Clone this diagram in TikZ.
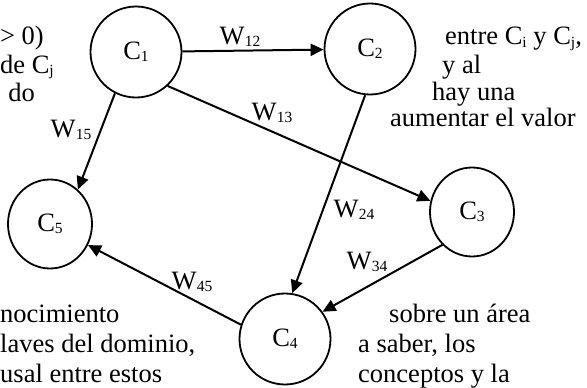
\documentclass[tikz,border=0pt]{standalone}
\usepackage{fontspec}
\setmainfont{Liberation Serif}
\usetikzlibrary{arrows.meta,positioning,shapes.geometric}

\newcommand{\lowidx}[1]{\raisebox{-2pt}{\fontsize{15.5}{16}\selectfont #1}}

\tikzset{
  concept/.style={ellipse,draw,line width=1.8pt,minimum width=91pt,minimum height=91pt,
    inner sep=0pt,font=\fontsize{26.5}{30}\selectfont},
  weight/.style={inner sep=0pt,font=\fontsize{26.5}{30}\selectfont},
  bgtext/.style={inner sep=0pt,font=\fontsize{26.5}{30}\selectfont},
  link/.style={line width=2pt,-{Triangle[length=13pt,width=12pt]}}
}

\begin{document}
\begin{tikzpicture}[x=1pt,y=-1pt,on grid]
\useasboundingbox (0,0) rectangle (587,388);

% paragraph text showing behind the map
\node[bgtext,anchor=base east] (tl1) at (44,44) {> 0)};
\node[bgtext,anchor=base east] (tl2) at (54,73) {de C\lowidx{j}};
\node[bgtext,anchor=base east] (tl3) at (35,101) {do};
\node[bgtext,anchor=base west] (tr1) at (445,45) {entre C\lowidx{i} y C\lowidx{j},};
\node[bgtext,anchor=base west] (tr2) at (442,73) {y al};
\node[bgtext,anchor=base west] (tr3) at (432,100) {hay una};
\node[bgtext,anchor=base west] (tr4) at (390,126) {aumentar el valor};
\node[bgtext,anchor=base west] (bl1) at (0,322) {nocimiento};
\node[bgtext,anchor=base west] (bl2) at (0,352) {laves del dominio,};
\node[bgtext,anchor=base west] (bl3) at (0,382) {usal entre estos};
\node[bgtext,anchor=base west] (br1) at (389,322) {sobre un área};
\node[bgtext,anchor=base west] (br2) at (358,352) {a saber, los};
\node[bgtext,anchor=base west] (br3) at (358,382) {conceptos y la};

% concepts
\node[concept] (C1) at (136,52) {C\lowidx{1}};
\node[concept] (C2) [above right=3pt and 234pt of C1] {C\lowidx{2}};
\node[concept,minimum width=84pt,minimum height=89pt] (C3) [below right=163pt and 102pt of C2] {C\lowidx{3}};
\node[concept] (C4) [below left=127pt and 187pt of C3] {C\lowidx{4}};
\node[concept,minimum width=84pt,minimum height=89pt] (C5) [below left=172pt and 86pt of C1] {C\lowidx{5}};

\path[link]
  (C1) edge (C2)
  (C1.-47) edge (C3.165)
  (C1.-117) edge (C5.51)
  (C2.-96) edge (C4.81)
  (C3.-132) edge (C4.36)
  (C4.162) edge (C5.-29);

% weights
\node[weight] (w12) at (240,37) {W\lowidx{12}};
\node[weight] (w13) at (272,113) {W\lowidx{13}};
\node[weight] (w15) at (71,130) {W\lowidx{15}};
\node[weight] (w24) at (354,210) {W\lowidx{24}};
\node[weight] (w34) at (367,262) {W\lowidx{34}};
\node[weight] (w45) at (192,282) {W\lowidx{45}};
\end{tikzpicture}
\end{document}
